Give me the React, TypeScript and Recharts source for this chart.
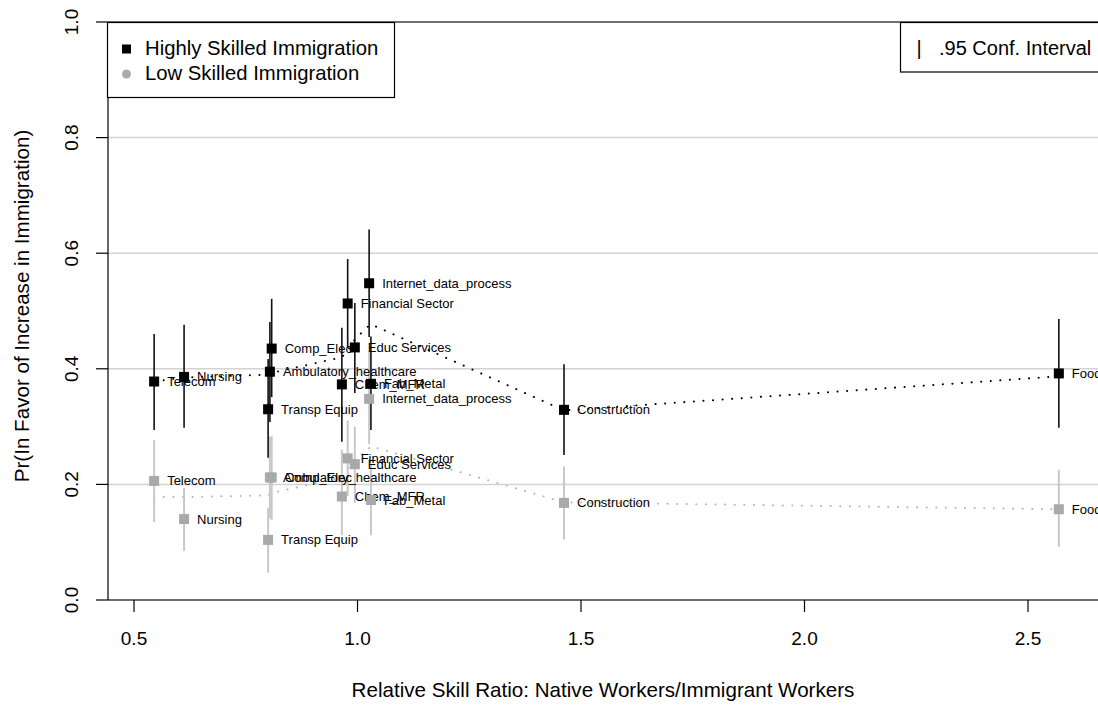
import React from 'react';
import { ComposedChart, Scatter, Line, XAxis, YAxis, CartesianGrid, ErrorBar, ReferenceLine } from 'recharts';

const FONT = '"Liberation Sans", Arial, Helvetica, sans-serif';

// industries, in the order the points were read
const sectors = [
  'Telecom', 'Nursing', 'Comp_Elec', 'Ambulatory_healthcare', 'Transp Equip', 'Chem_MFR',
  'Financial Sector', 'Educ Services', 'Internet_data_process', 'Fab_Metal', 'Construction', 'Food_MFR',
];
const skillRatio = [0.545, 0.612, 0.808, 0.804, 0.8, 0.965, 0.978, 0.994, 1.026, 1.03, 1.462, 2.569];

const highProb = [0.378, 0.386, 0.435, 0.395, 0.33, 0.373, 0.513, 0.437, 0.548, 0.374, 0.329, 0.392];
const highLo = [0.294, 0.298, 0.351, 0.308, 0.246, 0.274, 0.436, 0.358, 0.455, 0.294, 0.251, 0.298];
const highHi = [0.46, 0.476, 0.521, 0.481, 0.417, 0.471, 0.59, 0.514, 0.641, 0.456, 0.408, 0.486];

const lowProb = [0.206, 0.14, 0.212, 0.212, 0.104, 0.179, 0.245, 0.235, 0.348, 0.173, 0.168, 0.157];
const lowLo = [0.135, 0.085, 0.138, 0.141, 0.047, 0.112, 0.18, 0.168, 0.27, 0.112, 0.105, 0.092];
const lowHi = [0.277, 0.194, 0.283, 0.283, 0.159, 0.26, 0.311, 0.3, 0.43, 0.235, 0.231, 0.225];

// smoothed (lowess) curves
const smoothX = [0.545, 0.612, 0.8, 0.804, 0.808, 0.965, 0.978, 0.994, 1.026, 1.03, 1.462, 2.569];
const smoothHigh = [0.378, 0.385, 0.39, 0.391, 0.393, 0.42, 0.431, 0.451, 0.475, 0.477, 0.328, 0.387];
const smoothLow = [0.178, 0.178, 0.181, 0.183, 0.185, 0.212, 0.226, 0.242, 0.263, 0.266, 0.169, 0.157];

const xTicks = [0.5, 1, 1.5, 2, 2.5];
const yTicks = [0, 0.2, 0.4, 0.6, 0.8, 1];

const highData = sectors.map((name, i) => ({
  name, x: skillRatio[i], y: highProb[i], err: [highProb[i] - highLo[i], highHi[i] - highProb[i]],
}));
const lowData = sectors.map((name, i) => ({
  name, x: skillRatio[i], y: lowProb[i], err: [lowProb[i] - lowLo[i], lowHi[i] - lowProb[i]],
}));
const highCurve = smoothX.map((x, i) => ({ x, y: smoothHigh[i] }));
const lowCurve = smoothX.map((x, i) => ({ x, y: smoothLow[i] }));

const squareWithLabel = (fill: string) => (props: any) => {
  const { cx, cy, payload } = props;
  return (
    <g>
      <rect x={cx - 5} y={cy - 5} width={10} height={10} fill={fill} />
      <text x={cx + 13} y={cy + 4.5} fontSize={13} fontFamily={FONT} fill="#000">{payload.name}</text>
    </g>
  );
};

const XTick = (props: any) => (
  <text x={props.x} y={props.y + 14} textAnchor="middle" fontSize={19} fontFamily={FONT} fill="#000">
    {Number(props.payload.value).toFixed(1)}
  </text>
);

const YTick = (props: any) => (
  <text
    x={props.x}
    y={props.y}
    transform={`rotate(-90 ${props.x} ${props.y})`}
    textAnchor="middle"
    fontSize={19}
    fontFamily={FONT}
    fill="#000"
  >
    {Number(props.payload.value).toFixed(1)}
  </text>
);

export default function App() {
  return (
    <div style={{ position: 'absolute', left: 0, top: 0, width: 1098, height: 705, background: '#fff' }}>
      <ComposedChart width={1098} height={705} margin={{ top: 22, right: 0, bottom: 0, left: 0 }}>
        <CartesianGrid vertical={false} stroke="#d3d3d3" strokeWidth={1.5} />
        <XAxis
          type="number"
          dataKey="x"
          domain={[0.4418, 2.6566]}
          ticks={xTicks}
          height={105}
          tickSize={12}
          tickMargin={19}
          axisLine={{ stroke: '#000', strokeWidth: 1.2 }}
          tickLine={{ stroke: '#000', strokeWidth: 1.2 }}
          tick={<XTick />}
        />
        <YAxis
          type="number"
          dataKey="y"
          domain={[0, 1]}
          ticks={yTicks}
          width={108}
          tickSize={12}
          tickMargin={18}
          axisLine={{ stroke: '#000', strokeWidth: 1.2 }}
          tickLine={{ stroke: '#000', strokeWidth: 1.2 }}
          tick={<YTick />}
        />
        <ReferenceLine y={1} stroke="#000" strokeWidth={1.2} />
        <Line
          data={lowCurve}
          dataKey="y"
          type="linear"
          stroke="#b5b5b5"
          strokeWidth={2}
          strokeDasharray="0.1 9.5"
          strokeLinecap="round"
          dot={false}
          isAnimationActive={false}
        />
        <Scatter data={lowData} dataKey="y" shape={squareWithLabel('#a9a9a9')} isAnimationActive={false}>
          <ErrorBar dataKey="err" direction="y" width={0} stroke="#c8c8c8" strokeWidth={2} isAnimationActive={false} />
        </Scatter>
        <Line
          data={highCurve}
          dataKey="y"
          type="linear"
          stroke="#000"
          strokeWidth={2}
          strokeDasharray="0.1 9.5"
          strokeLinecap="round"
          dot={false}
          isAnimationActive={false}
        />
        <Scatter data={highData} dataKey="y" shape={squareWithLabel('#000')} isAnimationActive={false}>
          <ErrorBar dataKey="err" direction="y" width={0} stroke="#111" strokeWidth={1.6} isAnimationActive={false} />
        </Scatter>
      </ComposedChart>

      <svg width={1098} height={705} style={{ position: 'absolute', left: 0, top: 0, pointerEvents: 'none' }}>
        <g fontFamily={FONT} fill="#000">
          <rect x={107.5} y={22.5} width={287} height={75} fill="#fff" stroke="#000" strokeWidth={1.2} />
          <rect x={122} y={44.5} width={9} height={9} fill="#000" />
          <text x={145} y={55} fontSize={20.3}>Highly Skilled Immigration</text>
          <circle cx={126.5} cy={74} r={4.5} fill="#aaa" />
          <text x={145} y={80} fontSize={20.3}>Low Skilled Immigration</text>

          <rect x={900.5} y={22.5} width={300} height={49.5} fill="#fff" stroke="#000" strokeWidth={1.2} />
          <text x={919} y={55} fontSize={20} textAnchor="middle">|</text>
          <text x={939} y={55} fontSize={20}>.95 Conf. Interval</text>

          <text x={603} y={697} fontSize={20.6} textAnchor="middle">
            Relative Skill Ratio: Native Workers/Immigrant Workers
          </text>
          <text x={29} y={306} fontSize={20.6} textAnchor="middle" transform="rotate(-90 29 306)">
            Pr(In Favor of Increase in Immigration)
          </text>
        </g>
      </svg>
    </div>
  );
}
